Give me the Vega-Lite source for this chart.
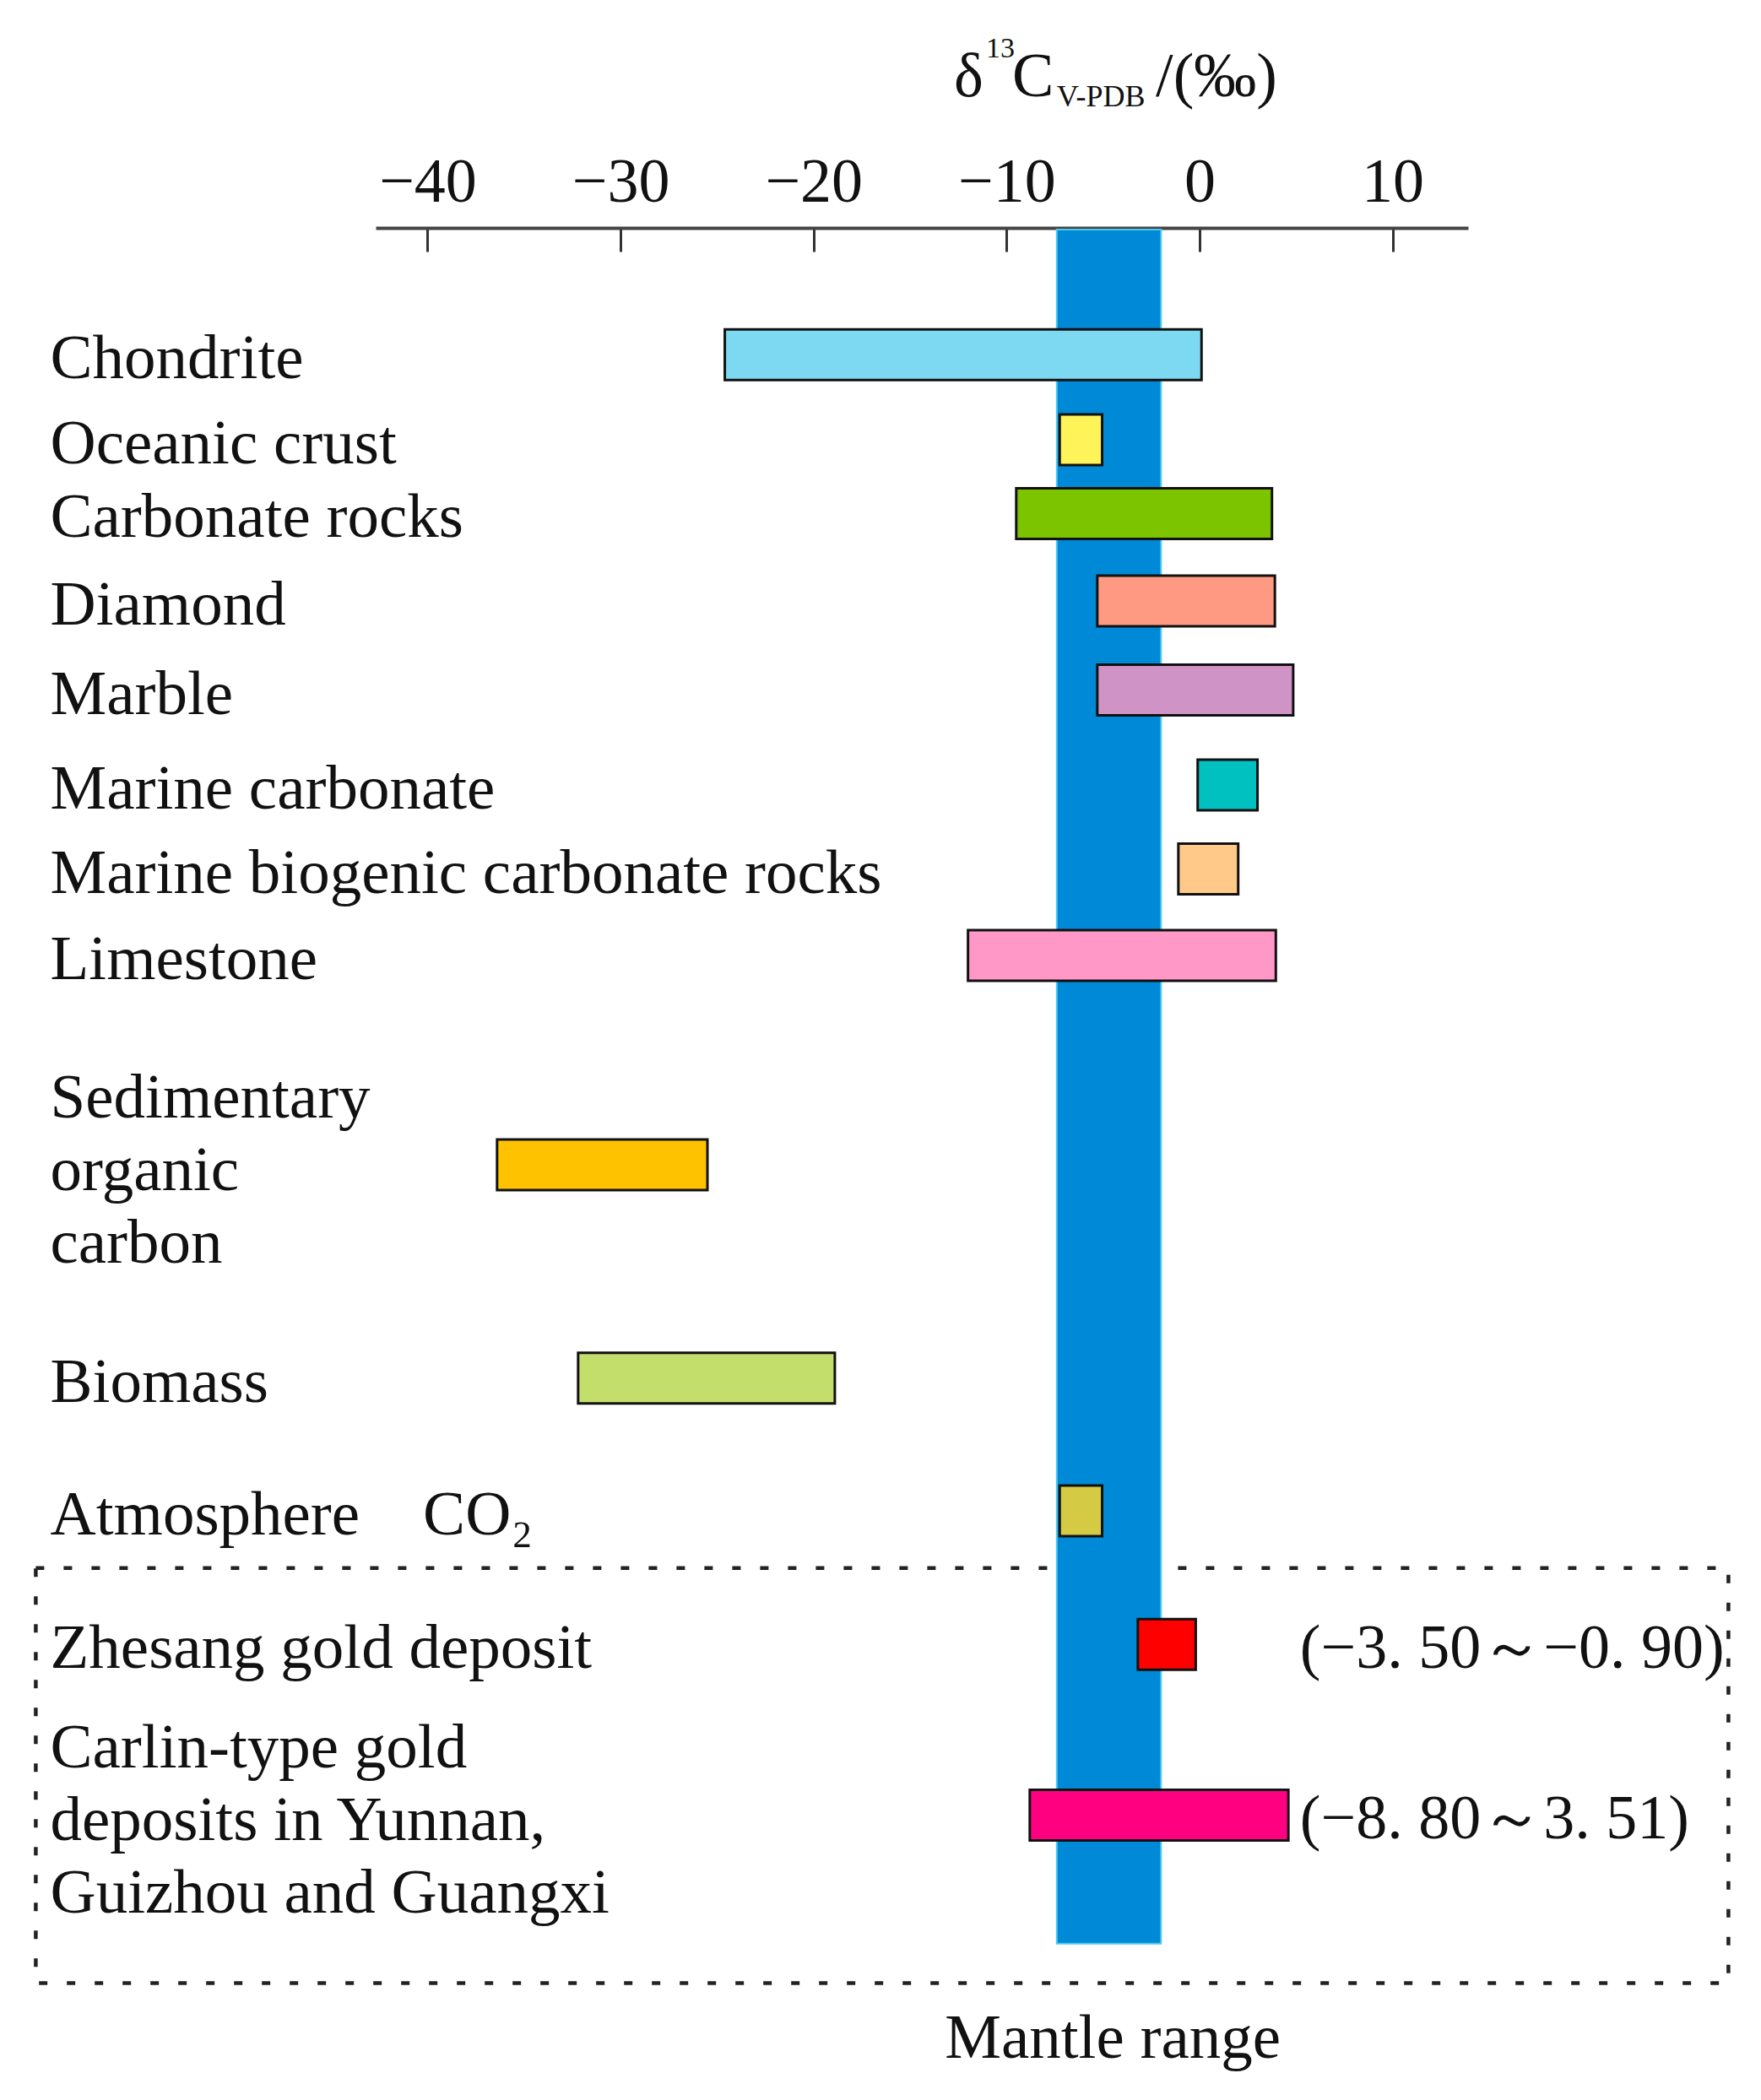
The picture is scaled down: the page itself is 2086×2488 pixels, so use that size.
{
  "$schema": "https://vega.github.io/schema/vega-lite/v6.json",
  "width": 1294,
  "height": 2200,
  "autosize": {"type": "none"},
  "padding": {"left": 445, "top": 270, "right": 347, "bottom": 18},
  "background": "white",
  "config": {"view": {"stroke": null}, "font": "Liberation Serif"},
  "datasets": {
    "sources": [
      {"name": "Chondrite", "label": "Chondrite", "lo": -24.6, "hi": 0.1, "row": 1.46},
      {"name": "Oceanic crust", "label": "Oceanic crust", "lo": -7.25, "hi": -5.05, "row": 2.47},
      {"name": "Carbonate rocks", "label": "Carbonate rocks", "lo": -9.5, "hi": 3.75, "row": 3.35},
      {"name": "Diamond", "label": "Diamond", "lo": -5.3, "hi": 3.9, "row": 4.39},
      {"name": "Marble", "label": "Marble", "lo": -5.3, "hi": 4.85, "row": 5.45},
      {"name": "Marine carbonate", "label": "Marine carbonate", "lo": -0.1, "hi": 3.0, "row": 6.58},
      {"name": "Marine biogenic carbonate rocks", "label": "Marine biogenic carbonate rocks", "lo": -1.1, "hi": 2.0, "row": 7.58},
      {"name": "Limestone", "label": "Limestone", "lo": -12.0, "hi": 3.95, "row": 8.61},
      {"name": "Sedimentary organic carbon", "label": ["Sedimentary", "organic", "carbon"], "lo": -36.4, "hi": -25.5, "row": 11.1},
      {"name": "Biomass", "label": "Biomass", "lo": -32.2, "hi": -18.9, "row": 13.64},
      {"name": "Atmosphere CO2", "label": "Atmosphere\u00a0\u00a0\u00a0 CO₂", "lo": -7.25, "hi": -5.05, "row": 15.22},
      {"name": "Zhesang gold deposit", "label": "Zhesang gold deposit", "lo": -3.2, "hi": -0.2, "row": 16.81, "range": "(−3. 50～−0. 90)"},
      {"name": "Carlin-type gold deposits", "label": ["Carlin-type gold", "deposits in Yunnan,", "Guizhou and Guangxi"], "lo": -8.8, "hi": 4.6, "row": 18.84, "range": "(−8. 80～3. 51)"}
    ],
    "mantle": [{"name": "Mantle range", "lo": -7.4, "hi": -2.0}]
  },
  "layer": [
    {
      "data": {"values": [{}]},
      "mark": {"type": "rect", "fillOpacity": 0, "stroke": "#222222", "strokeWidth": 4.5, "strokeDash": [10, 23]},
      "encoding": {
        "x": {
          "datum": -60.3, "type": "quantitative",
          "scale": {"domain": [-42.69, 13.91], "nice": false, "zero": false},
          "axis": {
            "orient": "top", "values": [-40, -30, -20, -10, 0, 10], "format": "d", "title": null, "grid": false,
            "labelFont": "Liberation Serif", "labelFontSize": 74, "labelColor": "#111111",
            "domainColor": "#444444", "domainWidth": 4,
            "tickColor": "#333333", "tickWidth": 3, "tickSize": -28, "labelPadding": 44
          }
        },
        "x2": {"datum": 27.4},
        "y": {"datum": 15.9, "type": "quantitative", "scale": {"domain": [0, 22], "reverse": true, "nice": false, "zero": false}, "axis": null},
        "y2": {"datum": 20.84}
      }
    },
    {
      "data": {"name": "mantle"},
      "mark": {"type": "rect", "fill": "#0089d6", "stroke": "#4cc9f0", "strokeWidth": 2},
      "encoding": {
        "x": {"field": "lo", "type": "quantitative"},
        "x2": {"field": "hi"},
        "y": {"datum": -0.03, "type": "quantitative"},
        "y2": {"datum": 20.37}
      }
    },
    {
      "data": {"name": "sources"},
      "mark": {"type": "bar", "orient": "horizontal", "height": 60, "stroke": "#111111", "strokeWidth": 3},
      "encoding": {
        "x": {"field": "lo", "type": "quantitative"},
        "x2": {"field": "hi"},
        "y": {"field": "row", "type": "quantitative"},
        "color": {
          "field": "name", "type": "nominal", "legend": null,
          "scale": {
            "domain": ["Chondrite", "Oceanic crust", "Carbonate rocks", "Diamond", "Marble", "Marine carbonate", "Marine biogenic carbonate rocks", "Limestone", "Sedimentary organic carbon", "Biomass", "Atmosphere CO2", "Zhesang gold deposit", "Carlin-type gold deposits"],
            "range": ["#7dd8f1", "#fff35a", "#7dc400", "#ff9a82", "#d093c6", "#00c0c0", "#ffc98a", "#ff98c6", "#ffc200", "#c3de6a", "#d4ca44", "#ff0000", "#ff0080"]
          }
        }
      }
    },
    {
      "data": {"name": "sources"},
      "transform": [{"filter": "!isArray(datum.label)"}],
      "mark": {"type": "text", "align": "left", "baseline": "middle", "dy": 5, "fontSize": 75, "lineHeight": 86, "color": "#111111", "font": "Liberation Serif"},
      "encoding": {
        "x": {"datum": -59.55, "type": "quantitative"},
        "y": {"field": "row", "type": "quantitative"},
        "text": {"field": "label"}
      }
    },
    {
      "data": {"name": "sources"},
      "transform": [{"filter": "isArray(datum.label)"}],
      "mark": {"type": "text", "align": "left", "baseline": "middle", "dy": -79, "fontSize": 75, "lineHeight": 86, "color": "#111111", "font": "Liberation Serif"},
      "encoding": {
        "x": {"datum": -59.55, "type": "quantitative"},
        "y": {"field": "row", "type": "quantitative"},
        "text": {"field": "label"}
      }
    },
    {
      "data": {"name": "sources"},
      "transform": [{"filter": "isValid(datum.range)"}],
      "mark": {"type": "text", "align": "left", "baseline": "middle", "dy": 6, "fontSize": 74, "color": "#111111", "font": "Liberation Serif"},
      "encoding": {
        "x": {"datum": 5.2, "type": "quantitative"},
        "y": {"field": "row", "type": "quantitative"},
        "text": {"field": "range"}
      }
    },
    {
      "data": {"name": "mantle"},
      "mark": {"type": "text", "align": "center", "baseline": "alphabetic", "fontSize": 75, "color": "#111111", "font": "Liberation Serif"},
      "encoding": {
        "x": {"datum": -4.5, "type": "quantitative"},
        "y": {"datum": 21.73, "type": "quantitative"},
        "text": {"field": "name"}
      }
    },
    {
      "data": {"values": [{}]},
      "mark": {"type": "text", "text": "δ", "align": "left", "baseline": "alphabetic", "fontSize": 74, "color": "#111111", "font": "Liberation Serif"},
      "encoding": {"x": {"datum": -12.73, "type": "quantitative"}, "y": {"datum": -1.62, "type": "quantitative"}}
    },
    {
      "data": {"values": [{}]},
      "mark": {"type": "text", "text": "13", "align": "left", "baseline": "alphabetic", "fontSize": 34, "color": "#111111", "font": "Liberation Serif"},
      "encoding": {"x": {"datum": -11.07, "type": "quantitative"}, "y": {"datum": -2.08, "type": "quantitative"}}
    },
    {
      "data": {"values": [{}]},
      "mark": {"type": "text", "text": "C", "align": "left", "baseline": "alphabetic", "fontSize": 74, "color": "#111111", "font": "Liberation Serif"},
      "encoding": {"x": {"datum": -9.71, "type": "quantitative"}, "y": {"datum": -1.62, "type": "quantitative"}}
    },
    {
      "data": {"values": [{}]},
      "mark": {"type": "text", "text": "V-PDB", "align": "left", "baseline": "alphabetic", "fontSize": 36, "color": "#111111", "font": "Liberation Serif"},
      "encoding": {"x": {"datum": -7.4, "type": "quantitative"}, "y": {"datum": -1.5, "type": "quantitative"}}
    },
    {
      "data": {"values": [{}]},
      "mark": {"type": "text", "text": "/(‰)", "align": "left", "baseline": "alphabetic", "fontSize": 74, "color": "#111111", "font": "Liberation Serif"},
      "encoding": {"x": {"datum": -2.27, "type": "quantitative"}, "y": {"datum": -1.62, "type": "quantitative"}}
    }
  ]
}
